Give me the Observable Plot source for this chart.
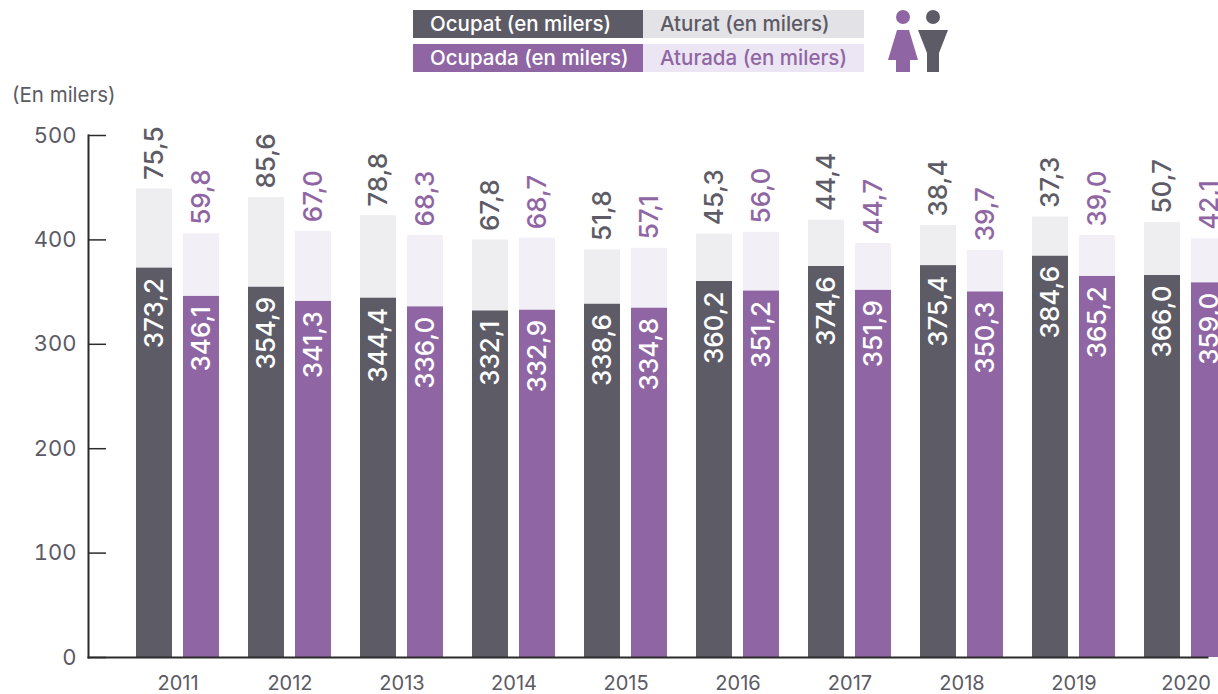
<!DOCTYPE html>
<html lang="ca"><head><meta charset="utf-8">
<script src="https://cdn.jsdelivr.net/npm/d3@7"></script>
<script src="https://cdn.jsdelivr.net/npm/@observablehq/plot@0.6"></script>
<style>
html,body{margin:0;padding:0;background:#fff;overflow:hidden;width:1218px;height:694px}
body{font-family:Inter,sans-serif;color:#5c5a64}
#head{position:relative;height:100px;width:1218px}
.c{position:absolute;box-sizing:border-box;padding-left:17px;font-size:20.5px;font-weight:500;line-height:28px;height:28px;white-space:nowrap}
#unit{position:absolute;left:12px;top:83px;font-size:20.5px;line-height:24px}
#icon{position:absolute;left:885px;top:8px}
svg{display:block}
</style></head><body>
<div id="head">
  <div class="c" style="left:413px;top:10px;width:230px;background:#5d5b66;color:#fff">Ocupat (en milers)</div>
  <div class="c" style="left:643px;top:10px;width:221px;background:#e3e3e7;color:#5c5a64">Aturat (en milers)</div>
  <div class="c" style="left:413px;top:44px;width:230px;background:#8f66a3;color:#fff">Ocupada (en milers)</div>
  <div class="c" style="left:643px;top:44px;width:221px;background:#ece5f3;color:#8f66a3">Aturada (en milers)</div>
  <svg id="icon" width="66" height="66" viewBox="885 8 66 66">
    <circle cx="903" cy="17" r="7" fill="#8f66a3"/>
    <path d="M897 30H909L918 60H910V72H896V60H888Z" fill="#8f66a3"/>
    <circle cx="933" cy="17" r="7" fill="#5d5b66"/>
    <path d="M918 30H948L939 53V72H927V53Z" fill="#5d5b66"/>
  </svg>
  <div id="unit">(En milers)</div>
</div>
<div id="chart"></div>
<script>
const years = [2011,2012,2013,2014,2015,2016,2017,2018,2019,2020];
const ocupat  = [373.2,354.9,344.4,332.1,338.6,360.2,374.6,375.4,384.6,366.0];
const aturat  = [75.5,85.6,78.8,67.8,51.8,45.3,44.4,38.4,37.3,50.7];
const ocupada = [346.1,341.3,336.0,332.9,334.8,351.2,351.9,350.3,365.2,359.0];
const aturada = [59.8,67.0,68.3,68.7,57.1,56.0,44.7,39.7,39.0,42.1];
const yTicks = [0,100,200,300,400,500];

const dark = "#5d5b66", purple = "#8f66a3", lightGrey = "#eeeef0", lightPurple = "#f2eff7", axisInk = "#2b2b2b";
const fmt = v => v.toFixed(1).replace(".", ",");
const men = years.map((year,i) => ({year, a: ocupat[i], b: aturat[i]}));
const women = years.map((year,i) => ({year, a: ocupada[i], b: aturada[i]}));

const series = (data, base, top, ink, side) => {
  const ins = side < 0 ? {insetRight:47} : {insetLeft:47};
  const dx = side * 23.5;
  return [
    Plot.barY(data, {x:"year", y1:0, y2:"a", fill:base, ...ins}),
    Plot.barY(data, {x:"year", y1:"a", y2:d=>d.a+d.b, fill:top, ...ins}),
    Plot.text(data, {x:"year", y:"a", text:d=>fmt(d.a), rotate:-90, textAnchor:"end", lineAnchor:"middle", dx, dy:10, fill:"#fff", fontSize:26, fontWeight:500}),
    Plot.text(data, {x:"year", y:d=>d.a+d.b, text:d=>fmt(d.b), rotate:-90, textAnchor:"start", lineAnchor:"middle", dx, dy:-9, fill:ink, fontSize:26, fontWeight:500})
  ];
};

const plot = Plot.plot({
  width:1218, height:594,
  marginLeft:88, marginRight:11, marginTop:35, marginBottom:37,
  style:{fontFamily:"Inter, sans-serif", background:"transparent", overflow:"hidden"},
  x:{type:"band", domain:years, range:[136,1227], paddingInner:29/112, paddingOuter:0, align:0, label:null},
  y:{domain:[0,500], label:null},
  marks:[
    ...series(men, dark, lightGrey, dark, -1),
    ...series(women, purple, lightPurple, purple, 1),
    Plot.frame({anchor:"left", stroke:axisInk, strokeWidth:2}),
    Plot.frame({anchor:"bottom", stroke:axisInk, strokeWidth:2}),
    Plot.axisY({ticks:yTicks, anchor:"left", tickSize:-18, text:null, stroke:axisInk, strokeWidth:1.5}),
    Plot.axisY({ticks:yTicks, anchor:"left", tickSize:0, tickPadding:12, fontSize:22, label:null, fill:"#5c5a64"}),
    Plot.axisX({anchor:"bottom", tickSize:0, tickPadding:18, fontSize:20, fill:"#5c5a64", label:null, tickFormat:d=>String(d)})
  ]
});
document.getElementById("chart").append(plot);
</script>
</body></html>
